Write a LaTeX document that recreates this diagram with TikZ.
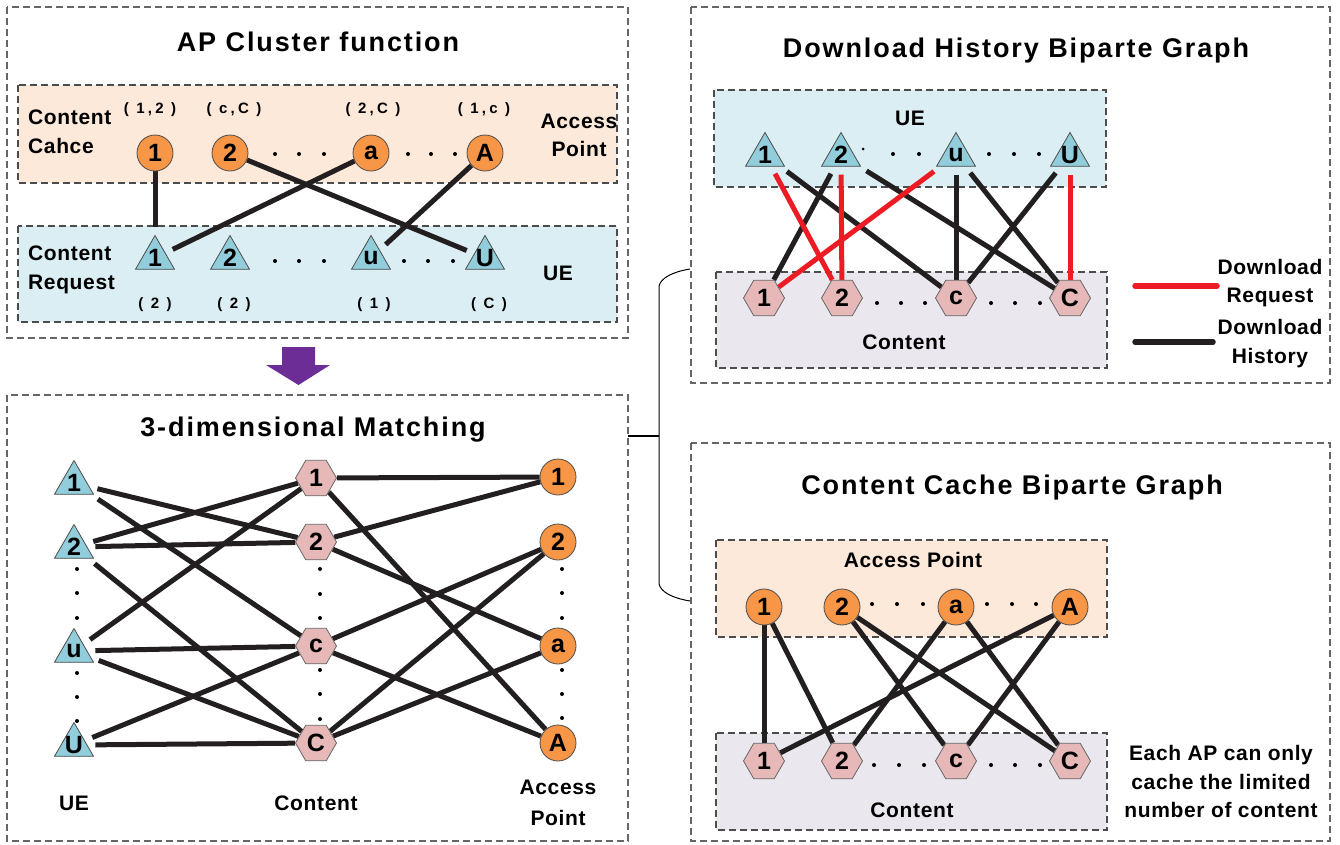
\documentclass[tikz,border=0pt]{standalone}
\usepackage{fontspec}
\setmainfont{Liberation Sans}
\newfontfamily\titlefont{Liberation Sans}[LetterSpace=7]
\newfontfamily\lblfont{Liberation Sans}[LetterSpace=3]
\newfontfamily\tinyfont{Liberation Sans}[LetterSpace=22]
\usetikzlibrary{shapes.geometric}
\definecolor{apfill}{RGB}{247,150,70}
\definecolor{uefill}{RGB}{146,205,220}
\definecolor{ctfill}{RGB}{230,185,184}
\definecolor{apband}{RGB}{252,233,218}
\definecolor{ueband}{RGB}{218,238,243}
\definecolor{ctband}{RGB}{234,231,239}
\definecolor{redline}{RGB}{237,28,36}
\definecolor{edgeblack}{RGB}{35,31,32}
\definecolor{arrowpurple}{RGB}{108,46,150}
\newcommand{\nodefnt}{\lblfont\fontsize{25}{25}\selectfont\bfseries}
\newcommand{\lblfnt}{\lblfont\fontsize{21}{25}\selectfont\bfseries}
\newcommand{\ttlfnt}{\titlefont\fontsize{27}{30}\selectfont\bfseries}
\newcommand{\tinyfnt}{\tinyfont\fontsize{15}{17}\selectfont\bfseries}
\pgfdeclarelayer{bands}
\pgfdeclarelayer{tri}
\pgfdeclarelayer{edges}
\pgfsetlayers{bands,tri,edges,main}
\begin{document}
\begin{tikzpicture}[x=1pt,y=-1pt,
  outer/.style={draw=black!60, line width=1.1pt, dash pattern=on 7pt off 4pt},
  band/.style={draw=black!70, line width=1.3pt, dash pattern=on 7pt off 4pt},
  ap/.style={circle, draw=black!70, line width=0.8pt, fill=apfill, minimum size=36pt, inner sep=0pt, font=\nodefnt},
  ct/.style={regular polygon, regular polygon sides=6, draw=black!60, line width=0.8pt, fill=ctfill, minimum size=41pt, inner sep=0pt, font=\nodefnt},
  ue/.style={regular polygon, regular polygon sides=3, draw=black!70, line width=0.8pt, fill=uefill, minimum size=45pt, inner sep=0pt, label={[inner sep=0pt, font=\nodefnt]center:#1}},
  edge/.style={line width=5pt, draw=edgeblack},
  redge/.style={line width=5pt, draw=redline},
  fromue/.style={shorten <=8pt},
  toue/.style={shorten >=8pt},
  txt/.style={inner sep=0pt, anchor=base, font=\lblfnt},
  ltxt/.style={inner sep=0pt, anchor=base west, font=\lblfnt},
  ttl/.style={inner sep=0pt, anchor=base, font=\ttlfnt},
  small/.style={inner sep=0pt, anchor=base, font=\tinyfnt},
  dot/.style={fill=black}
]
\useasboundingbox (0,0) rectangle (1340,844);

% ---------- frames and bands ----------
\begin{pgfonlayer}{bands}
  \draw[outer] (7,7) rectangle (628,338);
  \draw[outer] (7,395) rectangle (628,841);
  \draw[outer] (691,7) rectangle (1330,383);
  \draw[outer] (691,443) rectangle (1330,841);
  \draw[band, fill=apband] (18,85) rectangle (617,183);
  \draw[band, fill=ueband] (18,226) rectangle (617,322);
  \draw[band, fill=ueband] (714,90) rectangle (1106,187);
  \draw[band, fill=ctband] (716,272) rectangle (1107,368);
  \draw[band, fill=apband] (716,540) rectangle (1107,637);
  \draw[band, fill=ctband] (716,733) rectangle (1107,830);
\end{pgfonlayer}

% ---------- titles ----------
\node[ttl] (tA) at (318,51.7) {AP Cluster function};
\node[ttl] (tB) at (313,436.7) {3-dimensional Matching};
\node[ttl] (tC) at (1016,57.7) {Download History Biparte Graph};
\node[ttl] (tD) at (1012,494.7) {Content Cache Biparte Graph};

% ---------- panel A : AP cluster function ----------
\node[ap] (Aap1) at (155,153) {1};
\node[ap] (Aap2) at (230,153) {2};
\node[ap] (Aaps) at (371,153) {a};
\node[ap] (AapL) at (485,153) {A};
\begin{pgfonlayer}{tri}
  \node[ue=1] (Aue1) at (155,258) {};
  \node[ue=2] (Aue2) at (230,258) {};
  \node[ue=u] (Aues) at (371,258) {};
  \node[ue=U] (AueL) at (485,258) {};
\end{pgfonlayer}
\begin{pgfonlayer}{edges}
  \draw[edge,toue] (Aap1) -- (Aue1);
  \draw[edge,toue] (Aap2) -- (AueL);
  \draw[edge,toue] (Aaps) -- (Aue1);
  \draw[edge,toue] (AapL) -- (Aues);
\end{pgfonlayer}
\foreach \x in {275,299,324,408,431,455} \fill[dot] (\x,154) circle (2pt);
\foreach \x in {275,299,324,404,428,453} \fill[dot] (\x,261) circle (2pt);
\node[ltxt] (Acc1) at (28,124.5) {Content};
\node[ltxt] (Acc2) at (28,153.5) {Cahce};
\node[ltxt] (Acr1) at (28,260.5) {Content};
\node[ltxt] (Acr2) at (28,289.5) {Request};
\node[txt] (Aacc1) at (579,128.5) {Access};
\node[txt] (Aacc2) at (579,156.5) {Point};
\node[txt] (Aue) at (558,280.5) {UE};
\node[small] (As1) at (150,113) {( 1,2 )};
\node[small] (As2) at (234,113) {( c,C )};
\node[small] (As3) at (373,113) {( 2,C )};
\node[small] (As4) at (484,113) {( 1,c )};
\node[small] (Ar1) at (155,308) {( 2 )};
\node[small] (Ar2) at (234,308) {( 2 )};
\node[small] (Ar3) at (374,308) {( 1 )};
\node[small] (Ar4) at (489,308) {( C )};

% ---------- purple arrow ----------
\fill[arrowpurple] (282,347) -- (315,347) -- (315,365) -- (330,365) -- (298.5,385) -- (266,365) -- (282,365) -- cycle;

% ---------- panel B : 3-dimensional matching ----------
\begin{pgfonlayer}{tri}
  \node[ue=1] (Bue1) at (74,483) {};
  \node[ue=2] (Bue2) at (74,547) {};
  \node[ue=u] (Bues) at (74,651) {};
  \node[ue=U] (BueL) at (74,745) {};
\end{pgfonlayer}
\node[ct] (Bct1) at (316,478) {1};
\node[ct] (Bct2) at (316,542) {2};
\node[ct] (Bcts) at (316,646) {c};
\node[ct] (BctL) at (316,743) {C};
\node[ap] (Bap1) at (558,477) {1};
\node[ap] (Bap2) at (558,542) {2};
\node[ap] (Baps) at (558,646) {a};
\node[ap] (BapL) at (558,743) {A};
\begin{pgfonlayer}{edges}
  \foreach \a/\b in {Bue1/Bct2, Bue1/Bcts, Bue2/Bct1, Bue2/Bct2, Bue2/BctL, Bues/Bct1, Bues/Bcts, Bues/BctL, BueL/Bcts, BueL/BctL}
    \draw[edge,fromue] (\a) -- (\b);
  \foreach \a/\b in {Bct1/Bap1, Bct1/BapL, Bct2/Bap1, Bct2/Baps, Bcts/Bap2, Bcts/BapL, BctL/Bap2, BctL/Baps}
    \draw[edge] (\a) -- (\b);
\end{pgfonlayer}
\foreach \y in {569,593,618,673,697,721} \fill[dot] (77,\y) circle (2pt);
\foreach \y in {569,594,618,670,694,719} \fill[dot] (320,\y) circle (2pt);
\foreach \y in {569,593,618,670,694,718} \fill[dot] (562,\y) circle (2pt);
\node[txt] (Bue) at (74,810.5) {UE};
\node[txt] (Bct) at (316,810.5) {Content};
\node[txt] (Bap1t) at (558,794.5) {Access};
\node[txt] (Bap2t) at (558,825.5) {Point};

% ---------- bracket ----------
\coordinate (brTop) at (690,269);
\coordinate (brBot) at (690,601);
\coordinate (brMid) at (659,436);
\coordinate (brFrom) at (628,436);
\draw[line width=1pt] (brTop) .. controls (672,272) and (661,278) .. (659,286) -- (659,584) .. controls (661,592) and (672,598) .. (brBot);
\draw[line width=1.2pt] (brFrom) -- (brMid);

% ---------- panel C : download history ----------
\begin{pgfonlayer}{tri}
  \node[ue=1] (Cue1) at (765,155) {};
  \node[ue=2] (Cue2) at (841,155) {};
  \node[ue=u] (Cues) at (956,155) {};
  \node[ue=U] (CueL) at (1070,155) {};
\end{pgfonlayer}
\node[ct] (Cct1) at (764,298) {1};
\node[ct] (Cct2) at (842,298) {2};
\node[ct] (Ccts) at (956,298) {c};
\node[ct] (CctL) at (1070,298) {C};
\begin{pgfonlayer}{edges}
  \foreach \a/\b in {Cue1/Ccts, Cue2/Cct1, Cue2/CctL, Cues/Ccts, Cues/CctL, CueL/Ccts}
    \draw[edge,fromue] (\a) -- (\b);
  \foreach \a/\b in {Cue1/Cct2, Cue2/Cct2, Cues/Cct1, CueL/CctL}
    \draw[redge,fromue] (\a) -- (\b);
\end{pgfonlayer}
\fill[dot] (863,149) circle (1.5pt);
\foreach \x in {893,919,989,1014,1039} \fill[dot] (\x,154) circle (2pt);
\foreach \x in {877,901,925,991,1015,1040} \fill[dot] (\x,303) circle (2pt);
\node[txt] (Cue) at (910,125.5) {UE};
\node[txt] (Cct) at (904,349.5) {Content};
\coordinate (legR1) at (1135,286);
\coordinate (legR2) at (1217,286);
\coordinate (legB1) at (1135,342);
\coordinate (legB2) at (1213,342);
\draw[redge, line width=5.5pt, line cap=round] (legR1) -- (legR2);
\draw[edge, line width=5.5pt, line cap=round] (legB1) -- (legB2);
\node[txt] (Cl1) at (1270,274.5) {Download};
\node[txt] (Cl2) at (1270,302.5) {Request};
\node[txt] (Cl3) at (1270,334.5) {Download};
\node[txt] (Cl4) at (1270,363.5) {History};

% ---------- panel D : content cache ----------
\node[ap] (Dap1) at (764,607) {1};
\node[ap] (Dap2) at (842,607) {2};
\node[ap] (Daps) at (956,607) {a};
\node[ap] (DapL) at (1070,607) {A};
\node[ct] (Dct1) at (764,761) {1};
\node[ct] (Dct2) at (842,761) {2};
\node[ct] (Dcts) at (956,761) {c};
\node[ct] (DctL) at (1070,761) {C};
\begin{pgfonlayer}{edges}
  \foreach \a/\b in {Dap1/Dct1, Dap1/Dct2, Dap2/Dcts, Dap2/DctL, Daps/Dct2, Daps/DctL, DapL/Dct1, DapL/Dcts}
    \draw[edge] (\a) -- (\b);
\end{pgfonlayer}
\foreach \x in {872,897,923,987,1012,1036} \fill[dot] (\x,604) circle (2pt);
\foreach \x in {874,899,924,991,1015,1040} \fill[dot] (\x,765) circle (2pt);
\node[txt] (Dap) at (913,567.5) {Access Point};
\node[txt] (Dct) at (912,817.5) {Content};
\node[txt] (Dn1) at (1221,760.5) {Each AP can only};
\node[txt] (Dn2) at (1221,789.5) {cache the limited};
\node[txt] (Dn3) at (1221,817.5) {number of content};
\end{tikzpicture}
\end{document}
